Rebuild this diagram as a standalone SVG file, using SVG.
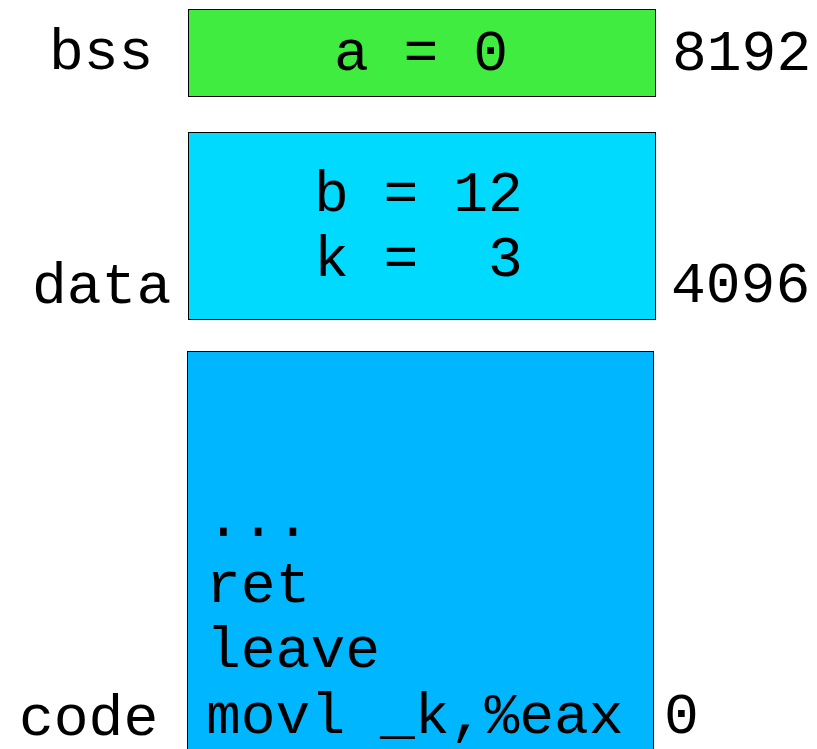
<svg xmlns="http://www.w3.org/2000/svg" width="817" height="749" viewBox="0 0 817 749">
<style>
text{font-family:"Liberation Mono","Courier New",monospace;font-size:58px;fill:#000}
.box{stroke:#000;stroke-width:1}
</style>
<rect width="817" height="749" fill="#fff"/>
<g id="bss">
<rect class="box" x="188.5" y="9.5" width="467" height="87" fill="#3fec3f"/>
<text x="421" y="70" text-anchor="middle">a = 0</text>
<text x="49" y="69">bss</text>
<text x="672" y="70">8192</text>
</g>
<g id="data">
<rect class="box" x="188.5" y="132.5" width="467" height="187" fill="#00daff"/>
<text x="314" y="211" xml:space="preserve">b = 12</text>
<text x="314" y="276" xml:space="preserve">k =  3</text>
<text x="32" y="303">data</text>
<text x="671" y="302">4096</text>
</g>
<g id="code">
<rect class="box" x="187.5" y="351.5" width="466" height="410" fill="#00b6ff"/>
<text x="206" y="536">...</text>
<text x="206" y="602">ret</text>
<text x="206" y="667">leave</text>
<text x="206" y="733">movl _k,%eax</text>
<text x="19" y="735">code</text>
<text x="664" y="733">0</text>
</g>
<g id="connectors"/>
</svg>
